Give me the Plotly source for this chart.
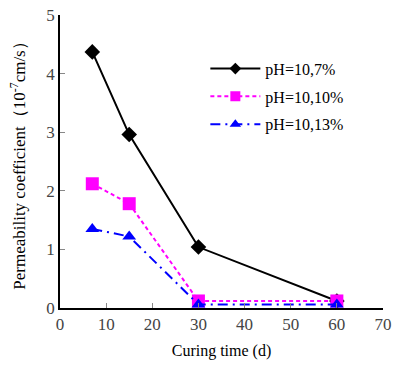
import plotly.graph_objects as go

days = [7, 15, 30, 60]
k_7 = [4.37, 2.96, 1.04, 0.12]
k_10 = [2.12, 1.78, 0.12, 0.12]
k_13 = [1.35, 1.22, 0.06, 0.06]
names = ["pH=10,7%", "pH=10,10%", "pH=10,13%"]

series = [
    (k_7, names[0], dict(color="black", width=2), "diamond", 12, 9, "black"),
    (k_10, names[1], dict(color="#ff00ff", width=2, dash="4px,3px"), "square", 13, 10, "#ff00ff"),
    (k_13, names[2], dict(color="#0000ff", width=2, dash="10px,5px,2px,5px"), "triangle-up", 12, 10, "#0000ff"),
]

fig = go.Figure()
for vals, name, line, sym, size, lsize, col in series:
    fig.add_trace(go.Scatter(x=days, y=vals, name=name, mode="lines+markers",
                             showlegend=False, line=line,
                             marker=dict(symbol=sym, size=size, color=col)))
for vals, name, line, sym, size, lsize, col in series:
    fig.add_trace(go.Scatter(x=[None], y=[None], name=name, mode="lines+markers",
                             legendgroup=name, line=line,
                             marker=dict(symbol=sym, size=lsize, color=col)))

font = "Liberation Serif, Times New Roman, serif"
fig.update_layout(
    width=393, height=370,
    margin=dict(l=60, r=10, t=15, b=62),
    paper_bgcolor="white", plot_bgcolor="white",
    font=dict(family=font, size=16, color="black"),
    showlegend=True,
    legend=dict(x=0.45, y=0.875, xanchor="left", yanchor="top",
                bgcolor="rgba(0,0,0,0)", font=dict(size=16, family=font),
                itemwidth=50, tracegroupgap=4),
)
fig.update_xaxes(range=[0, 70], dtick=10, showgrid=False, zeroline=False,
                 showline=True, linecolor="black", linewidth=1.5,
                 ticks="inside", ticklen=5, tickcolor="#888", automargin=False,
                 tickfont=dict(size=17, color="#444"),
                 title=dict(text="Curing time (d)", font=dict(size=16), standoff=12))
fig.update_yaxes(range=[0, 5], dtick=1, showgrid=False, zeroline=False,
                 showline=True, linecolor="black", linewidth=1.5,
                 ticks="inside", ticklen=5, tickcolor="#888", automargin=False,
                 tickfont=dict(size=17, color="#444"),
                 title=dict(text="Permeability coefficient（10<sup>-7</sup>cm/s）",
                            font=dict(size=17), standoff=16))
fig.write_html("out.html", config={"displayModeBar": False},
               post_script="document.body.style.margin='0';")
